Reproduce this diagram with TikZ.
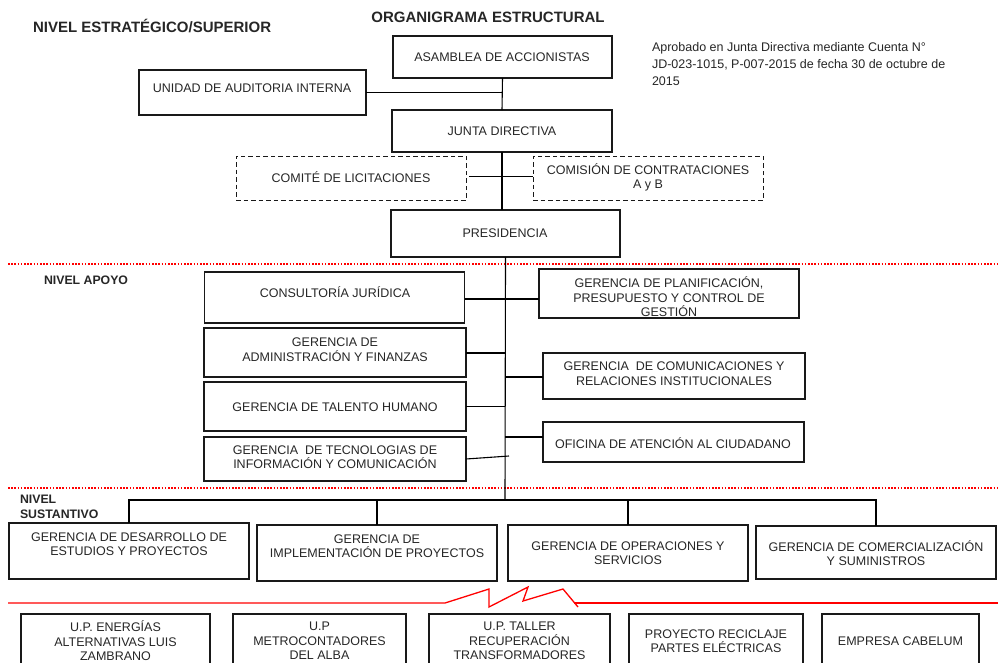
\documentclass[tikz,border=0pt]{standalone}
\usepackage{fontspec}
\setmainfont{Liberation Sans}
\usetikzlibrary{calc}
\begin{document}
\begin{tikzpicture}[x=1pt,y=-1pt,
  orgbox/.style={draw=black!90, line width=1.3pt, inner sep=0pt, outer sep=0pt},
  dbox/.style={draw=black!90, line width=1pt, inner sep=0pt, outer sep=0pt, dash pattern=on 4.5pt off 3pt},
  txt/.style={inner sep=0pt, outer sep=0pt, align=center, text=black!85, font=\fontsize{12.5}{14.5}\selectfont},
  head/.style={inner sep=0pt, outer sep=0pt, text=black!85, font=\bfseries\fontsize{15}{17}\selectfont},
  subhead/.style={inner sep=0pt, outer sep=0pt, align=left, text=black!85, font=\bfseries\fontsize{12.3}{14.5}\selectfont},
  conthin/.style={draw=black, line width=1.1pt},
  conthick/.style={draw=black, line width=2pt},
  reddot/.style={draw=red, line width=1.6pt, dash pattern=on 1.6pt off 1.6pt},
  redline/.style={draw=red, line width=1.3pt}
]
\useasboundingbox (0,0) rectangle (998,662);
\clip (0,0) rectangle (998,662);

% headings
\node[head, anchor=west] (hEst) at (33,26) {NIVEL ESTRATÉGICO/SUPERIOR};
\node[head] (hOrg) at (488,17) {ORGANIGRAMA ESTRUCTURAL};
\node[txt, anchor=west, align=left, font=\fontsize{12.5}{17}\selectfont] (aprob) at (652,64)
  {Aprobado en Junta Directiva mediante Cuenta N°\\JD-023-1015, P-007-2015 de fecha 30 de octubre de\\2015};
\node[subhead, anchor=west] (hApoyo) at (44,280) {NIVEL APOYO};
\node[subhead, anchor=west] (hSust) at (20,507) {NIVEL\\SUSTANTIVO};

% red separators
\draw[reddot] (8,264) -- (998,264);
\draw[reddot] (8,488) -- (998,488);
\draw[redline] (8,603) -- (445,603) -- (489,589) -- (489,607) -- (528,587) -- (523,601) -- (563,589) -- (578,607);
\draw[redline] (574,603) -- (998,603);

% strategic level
\node[orgbox, minimum width=219pt, minimum height=42pt] (asam) at (502.5,57) {};
\node[txt] (t-asam) at (502,57) {ASAMBLEA DE ACCIONISTAS};
\node[orgbox, minimum width=227pt, minimum height=45pt] (audit) at (252.5,92.5) {};
\node[txt] (t-audit) at (252,88) {UNIDAD DE AUDITORIA INTERNA};
\node[orgbox, minimum width=220pt, minimum height=42pt] (junta) at (502,131) {};
\node[txt] (t-junta) at (502,131) {JUNTA DIRECTIVA};
\node[dbox, minimum width=230pt, minimum height=44pt] (comite) at (351,178) {};
\node[txt] (t-comite) at (351,177) {COMITÉ DE LICITACIONES};
\node[dbox, minimum width=230pt, minimum height=44pt] (comis) at (648,178) {};
\node[txt] (t-comis) at (648,177.5) {COMISIÓN DE CONTRATACIONES\\A y B};
\node[orgbox, minimum width=229pt, minimum height=47pt] (pres) at (505.5,233.5) {};
\node[txt] (t-pres) at (505,233) {PRESIDENCIA};

\draw[conthin] (asam.south) -- (junta.north);
\draw[conthin] (audit.east) -- (audit.east -| asam.south);
\draw[conthin] ($(comite.east)+(3,-1.5)$) -- ($(comis.west)+(0,-1.5)$);
\draw[conthin] (junta.south) -- (junta.south |- pres.north);

% support level
\node[orgbox, minimum width=260pt, minimum height=51pt] (juri) at (334.5,297.5) {};
\node[txt] (t-juri) at (335,292) {CONSULTORÍA JURÍDICA};
\node[orgbox, minimum width=262pt, minimum height=49pt] (admin) at (335,352.5) {};
\node[txt] (t-admin) at (335,349.5) {GERENCIA DE\\ADMINISTRACIÓN Y FINANZAS};
\node[orgbox, minimum width=262pt, minimum height=49pt] (talento) at (335,406.5) {};
\node[txt] (t-talento) at (335,407) {GERENCIA DE TALENTO HUMANO};
\node[orgbox, minimum width=262pt, minimum height=44pt] (tecno) at (335,459) {};
\node[txt] (t-tecno) at (335,457) {GERENCIA\ \ DE TECNOLOGIAS DE\\INFORMACIÓN Y COMUNICACIÓN};

\node[orgbox, minimum width=260pt, minimum height=49pt] (planif) at (669,293.5) {};
\node[txt] (t-planif) at (669,297) {GERENCIA DE PLANIFICACIÓN,\\PRESUPUESTO Y CONTROL DE\\GESTIÓN};
\node[orgbox, minimum width=262pt, minimum height=46pt] (comun) at (674,376) {};
\node[txt] (t-comun) at (674,373.5) {GERENCIA\ \ DE COMUNICACIONES Y\\RELACIONES INSTITUCIONALES};
\node[orgbox, minimum width=261pt, minimum height=40pt] (ofic) at (673.5,442) {};
\node[txt] (t-ofic) at (673,443) {OFICINA DE ATENCIÓN AL CIUDADANO};

\coordinate (hub) at (505,500);
\draw[conthin] (pres.south) -- (hub);
\draw[conthick] ($(juri.east)+(0,1.5)$) -- ($(juri.east -| planif.west)+(0,1.5)$);
\draw[conthick] (admin.east) -- (admin.east -| hub);
\draw[conthick] ($(comun.west)+(0,1)$) -- ($(comun.west -| hub)+(0,1)$);
\draw[conthin] (talento.east) -- (talento.east -| hub);
\draw[conthin] ($(ofic.west)+(0,-5)$) -- ($(ofic.west -| hub)+(0,-5)$);
\draw[conthin] (tecno.east) -- ++(43,-3);

% substantive level
\node[orgbox, minimum width=240pt, minimum height=56pt] (s1) at (129,551) {};
\node[txt] (t-s1) at (129,544) {GERENCIA DE DESARROLLO DE\\ESTUDIOS Y PROYECTOS};
\node[orgbox, minimum width=240pt, minimum height=56pt] (s2) at (377,553) {};
\node[txt] (t-s2) at (377,546) {GERENCIA DE\\IMPLEMENTACIÓN DE PROYECTOS};
\node[orgbox, minimum width=240pt, minimum height=56pt] (s3) at (628,553) {};
\node[txt] (t-s3) at (628,553) {GERENCIA DE OPERACIONES Y\\SERVICIOS};
\node[orgbox, minimum width=240pt, minimum height=53pt] (s4) at (876,552.5) {};
\node[txt] (t-s4) at (876,553) {GERENCIA DE COMERCIALIZACIÓN\\Y SUMINISTROS};

\draw[conthin] (s1.north) |- (hub) -| (s4.north);
\draw[conthin] (s2.north) -- (s2.north |- hub);
\draw[conthin] (s3.north) -- (s3.north |- hub);

% production units
\node[orgbox, minimum width=189pt, minimum height=62pt] (u1) at (115.5,645) {};
\node[txt] (t-u1) at (115.5,641) {U.P. ENERGÍAS\\ALTERNATIVAS LUIS\\ZAMBRANO};
\node[orgbox, minimum width=173pt, minimum height=62pt] (u2) at (319.5,645) {};
\node[txt] (t-u2) at (319.5,641) {U.P\\METROCONTADORES\\DEL ALBA};
\node[orgbox, minimum width=181pt, minimum height=62pt] (u3) at (519.5,645) {};
\node[txt] (t-u3) at (519.5,641) {U.P. TALLER\\RECUPERACIÓN\\TRANSFORMADORES};
\node[orgbox, minimum width=174pt, minimum height=62pt] (u4) at (716,645) {};
\node[txt] (t-u4) at (716,641) {PROYECTO RECICLAJE\\PARTES ELÉCTRICAS};
\node[orgbox, minimum width=157pt, minimum height=62pt] (u5) at (900.5,645) {};
\node[txt] (t-u5) at (900.5,641) {EMPRESA CABELUM};
\end{tikzpicture}
\end{document}
